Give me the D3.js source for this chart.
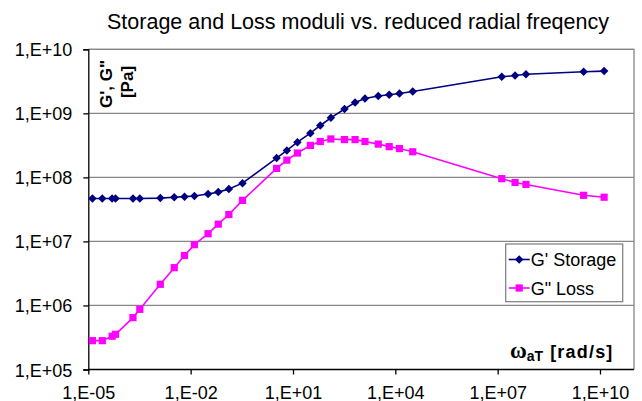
<!DOCTYPE html>
<html>
<head>
<meta charset="utf-8">
<script src="https://cdn.jsdelivr.net/npm/d3@7"></script>
<style>
  html, body { margin: 0; padding: 0; background: #fff; }
  svg { display: block; font-family: "Liberation Sans", Arial, sans-serif; }
</style>
</head>
<body>
<svg id="chart"></svg>
<script>
// reduced radial frequency (rad/s)
const freq = [1.32e-5, 2.57e-5, 5.0e-5, 6.3e-5, 2.04e-4, 3.24e-4, 1.29e-3, 3.31e-3, 6.6e-3, 1.29e-2,
  3.24e-2, 6.46e-2, 0.132, 0.331, 3.31, 6.61, 13.5, 32.4, 63.1, 129,
  324, 661, 1290, 3160, 6610, 1.32e4, 3.24e4, 1.32e7, 3.24e7, 6.76e7,
  3.31e9, 1.32e10]
// G' storage modulus (Pa)
const storage = [4.68e7, 4.68e7, 4.68e7, 4.68e7, 4.68e7, 4.68e7, 4.75e7, 4.9e7, 5.0e7, 5.13e7,
  5.5e7, 5.89e7, 6.6e7, 8.13e7, 2.0e8, 2.63e8, 3.55e8, 4.9e8, 6.46e8, 8.5e8,
  1.17e9, 1.48e9, 1.7e9, 1.86e9, 1.95e9, 2.04e9, 2.19e9, 3.72e9, 3.89e9, 4.07e9,
  4.47e9, 4.57e9]
// G'' loss modulus (Pa)
const loss = [2.82e5, 2.82e5, 3.31e5, 3.55e5, 6.46e5, 8.7e5, 2.14e6, 3.89e6, 6.03e6, 8.9e6,
  1.32e7, 1.86e7, 2.63e7, 4.37e7, 1.38e8, 1.86e8, 2.4e8, 3.16e8, 3.63e8, 3.98e8,
  3.89e8, 3.89e8, 3.63e8, 3.31e8, 3.02e8, 2.82e8, 2.51e8, 9.55e7, 8.32e7, 7.76e7,
  5.25e7, 4.9e7]

const xTicks = [1e-5, 1e-2, 1e1, 1e4, 1e7, 1e10]
const yTicks = [1e5, 1e6, 1e7, 1e8, 1e9, 1e10]

const w = 642
const h = 401
const mLeft = 88.3, mTop = 49.3, mBottom = 369.5, mRight = 634
const xEnd = 600

const svg = d3.select('#chart')
  .attr('width', w)
  .attr('height', h)

// excel style "1,E+05"
const fmt = v => {
  const e = Math.round(Math.log10(v))
  return '1,E' + (e < 0 ? '-' : '+') + String(Math.abs(e)).padStart(2, '0')
}

// scaling
const xScale = d3.scaleLog().domain([1e-5, 1e10]).range([mLeft, xEnd])
const yScale = d3.scaleLog().domain([1e5, 1e10]).range([mBottom, mTop])

// title
svg.append('text')
  .attr('x', 358)
  .attr('y', 29)
  .attr('text-anchor', 'middle')
  .style('font-size', '21.5px')
  .text('Storage and Loss moduli vs. reduced radial freqency')

// gridlines
svg.append('g')
  .selectAll('line')
  .data(yTicks.slice(1))
  .join('line')
  .attr('x1', mLeft).attr('x2', mRight)
  .attr('y1', d => yScale(d)).attr('y2', d => yScale(d))
  .attr('stroke', '#868686')
  .attr('stroke-width', 1.3)

// frame top/right
svg.append('path')
  .attr('d', `M${mLeft},${mTop}H${mRight}V${mBottom}`)
  .attr('fill', 'none')
  .attr('stroke', '#868686')
  .attr('stroke-width', 1.3)

// axis
const xAxis = d3.axisBottom(xScale).tickValues(xTicks).tickFormat(fmt).tickSizeOuter(0).tickSize(5)
const yAxis = d3.axisLeft(yScale).tickValues(yTicks).tickFormat(fmt).tickSizeOuter(0).tickSize(5)

const gx = svg.append('g')
  .attr('transform', `translate(0, ${mBottom})`)
  .call(xAxis)
gx.select('.domain').attr('d', `M${mLeft},0H${mRight}`)
const gy = svg.append('g')
  .attr('transform', `translate(${mLeft}, 0)`)
  .call(yAxis)

for (const g of [gx, gy]) {
  g.select('.domain').attr('stroke', '#000').attr('stroke-width', 1.3)
  g.selectAll('.tick line').attr('stroke', '#000').attr('stroke-width', 1.3)
  g.selectAll('.tick text')
    .attr('fill', '#000')
    .style('font-size', '18px')
    .style('font-family', '"Liberation Sans", Arial, sans-serif')
}
gx.selectAll('.tick text').attr('dy', null).attr('y', 29)
gy.selectAll('.tick text').attr('dy', null).attr('x', -16).attr('y', 6.5)

// axis titles
const yt = svg.append('text')
  .attr('transform', 'rotate(-90)')
  .attr('text-anchor', 'middle')
  .style('font-size', '17px')
  .style('font-weight', 'bold')
yt.append('tspan').attr('x', -84).attr('y', 112).text('G\', G"')
yt.append('tspan').attr('x', -82).attr('y', 133).text('[Pa]')

const xt = svg.append('text')
  .attr('x', 510)
  .attr('y', 358)
  .style('font-weight', 'bold')
xt.append('tspan')
  .style('font-family', '"Liberation Serif", "Times New Roman", serif')
  .style('font-size', '23px')
  .text('ω')
xt.append('tspan')
  .attr('dy', 3)
  .style('font-size', '14px')
  .text('aT')
xt.append('tspan')
  .attr('dy', -3)
  .attr('dx', 7)
  .style('font-size', '18px')
  .style('letter-spacing', '1.2px')
  .text('[rad/s]')

// draw data
const series = [
  { name: 'G\' Storage', values: storage, color: '#000080', shape: d3.symbolDiamond2, size: 46 },
  { name: 'G" Loss', values: loss, color: '#FF00FF', shape: d3.symbolSquare, size: 52 }
]

const line = d3.line()
  .x(d => xScale(d[0]))
  .y(d => yScale(d[1]))

series.forEach(s => {
  const pts = freq.map((f, i) => [f, s.values[i]])
  svg.append('path')
    .datum(pts)
    .attr('d', line)
    .attr('fill', 'none')
    .attr('stroke', s.color)
    .attr('stroke-width', 1.6)
  svg.append('g')
    .selectAll('path')
    .data(pts)
    .join('path')
    .attr('transform', d => `translate(${xScale(d[0])},${yScale(d[1])})`)
    .attr('d', d3.symbol().type(s.shape).size(s.size))
    .attr('fill', s.color)
})

// legend
const lg = svg.append('g').attr('transform', 'translate(505.7, 244)')
lg.append('rect')
  .attr('width', 117)
  .attr('height', 57.7)
  .attr('fill', '#fff')
  .attr('stroke', '#868686')
  .attr('stroke-width', 1.3)
series.forEach((s, i) => {
  const y = 15.5 + i * 28.5
  lg.append('line')
    .attr('x1', 3).attr('x2', 24)
    .attr('y1', y).attr('y2', y)
    .attr('stroke', s.color)
    .attr('stroke-width', 1.6)
  lg.append('path')
    .attr('transform', `translate(13.5,${y})`)
    .attr('d', d3.symbol().type(s.shape).size(s.size))
    .attr('fill', s.color)
  lg.append('text')
    .attr('x', 25)
    .attr('y', y + 6.5)
    .style('font-size', '18px')
    .text(s.name)
})
</script>
</body>
</html>
